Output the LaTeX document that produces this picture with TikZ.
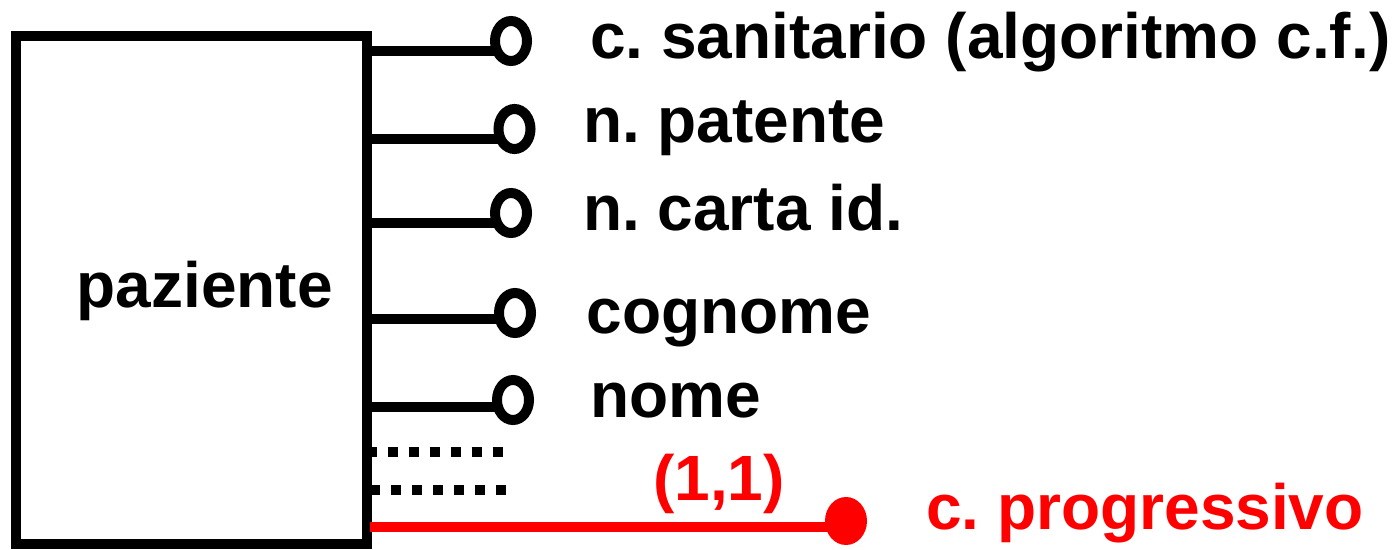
\documentclass[tikz,border=0pt]{standalone}
\usepackage{fontspec}
\setmainfont{Liberation Sans}
\frenchspacing
\usetikzlibrary{shapes.geometric}
\tikzset{
    EN/.style ={rectangle,minimum width = 350.5pt, minimum height = 508pt, inner sep=0pt, outer sep=0pt, draw, line width=10pt},
    AT/.style ={ellipse,minimum width = 32pt, minimum height = 40pt, inner sep=0pt, outer sep=0pt, draw, line width=10pt},
    AK/.style ={ellipse,minimum width = 42pt, minimum height = 48pt, inner sep=0pt, outer sep=0pt, fill=red},
    TX/.style ={anchor=base west, inner sep=0pt, font=\fontsize{64}{70}\selectfont\bfseries},
    LI/.style ={line width=10pt},
    DT/.style ={line width=10pt, dash pattern=on 10pt off 11pt}}
\begin{document}
\begin{tikzpicture}[x=1pt,y=-1pt]
        \useasboundingbox (0,0) rectangle (1395,549);
        \node[EN] (p) at(191.25,290){};
        \node[TX] (pt) at(76.5,307){paziente};
        % attributi
        \node[AT] (1) at(511,41){};
        \node[AT] (2) at(514.5,129){};
        \node[AT] (3) at(511,213){};
        \node[AT] (4) at(515,313){};
        \node[AT] (5) at(513,400){};
        \draw[LI] (p.east |- 0,51) -- (1.west |- 0,51);
        \draw[LI] (p.east |- 0,139) -- (2.west |- 0,139);
        \draw[LI] (p.east |- 0,223) -- (3.west |- 0,223);
        \draw[LI] (p.east |- 0,319) -- (4.west |- 0,319);
        \draw[LI] (p.east |- 0,407) -- (5.west |- 0,407);
        \node[TX] (t1) at(590,58){c. sanitario (algoritmo c.f.)};
        \node[TX] (t2) at(583,142){n. patente};
        \node[TX] (t3) at(583,230){n. carta id.};
        \node[TX] (t4) at(586.5,333){cognome};
        \node[TX] (t5) at(590,417){nome};
        % altri attributi
        \coordinate (d1) at(503,452);
        \coordinate (d2) at(506,489.5);
        \draw[DT] (p.east |- d1) -- (d1);
        \draw[DT,dash phase=17.5pt] (p.east |- d2) -- (d2);
        % identificatore
        \node[AK] (k) at(846,521){};
        \draw[LI,red] ([xshift=3.5pt]p.east |- 0,527) -- (k.center |- 0,527);
        \node[TX,text=red] (c) at(653,500){(1,1)};
        \node[TX,text=red] (tk) at(926,529){c. progressivo};
\end{tikzpicture}
\end{document}
